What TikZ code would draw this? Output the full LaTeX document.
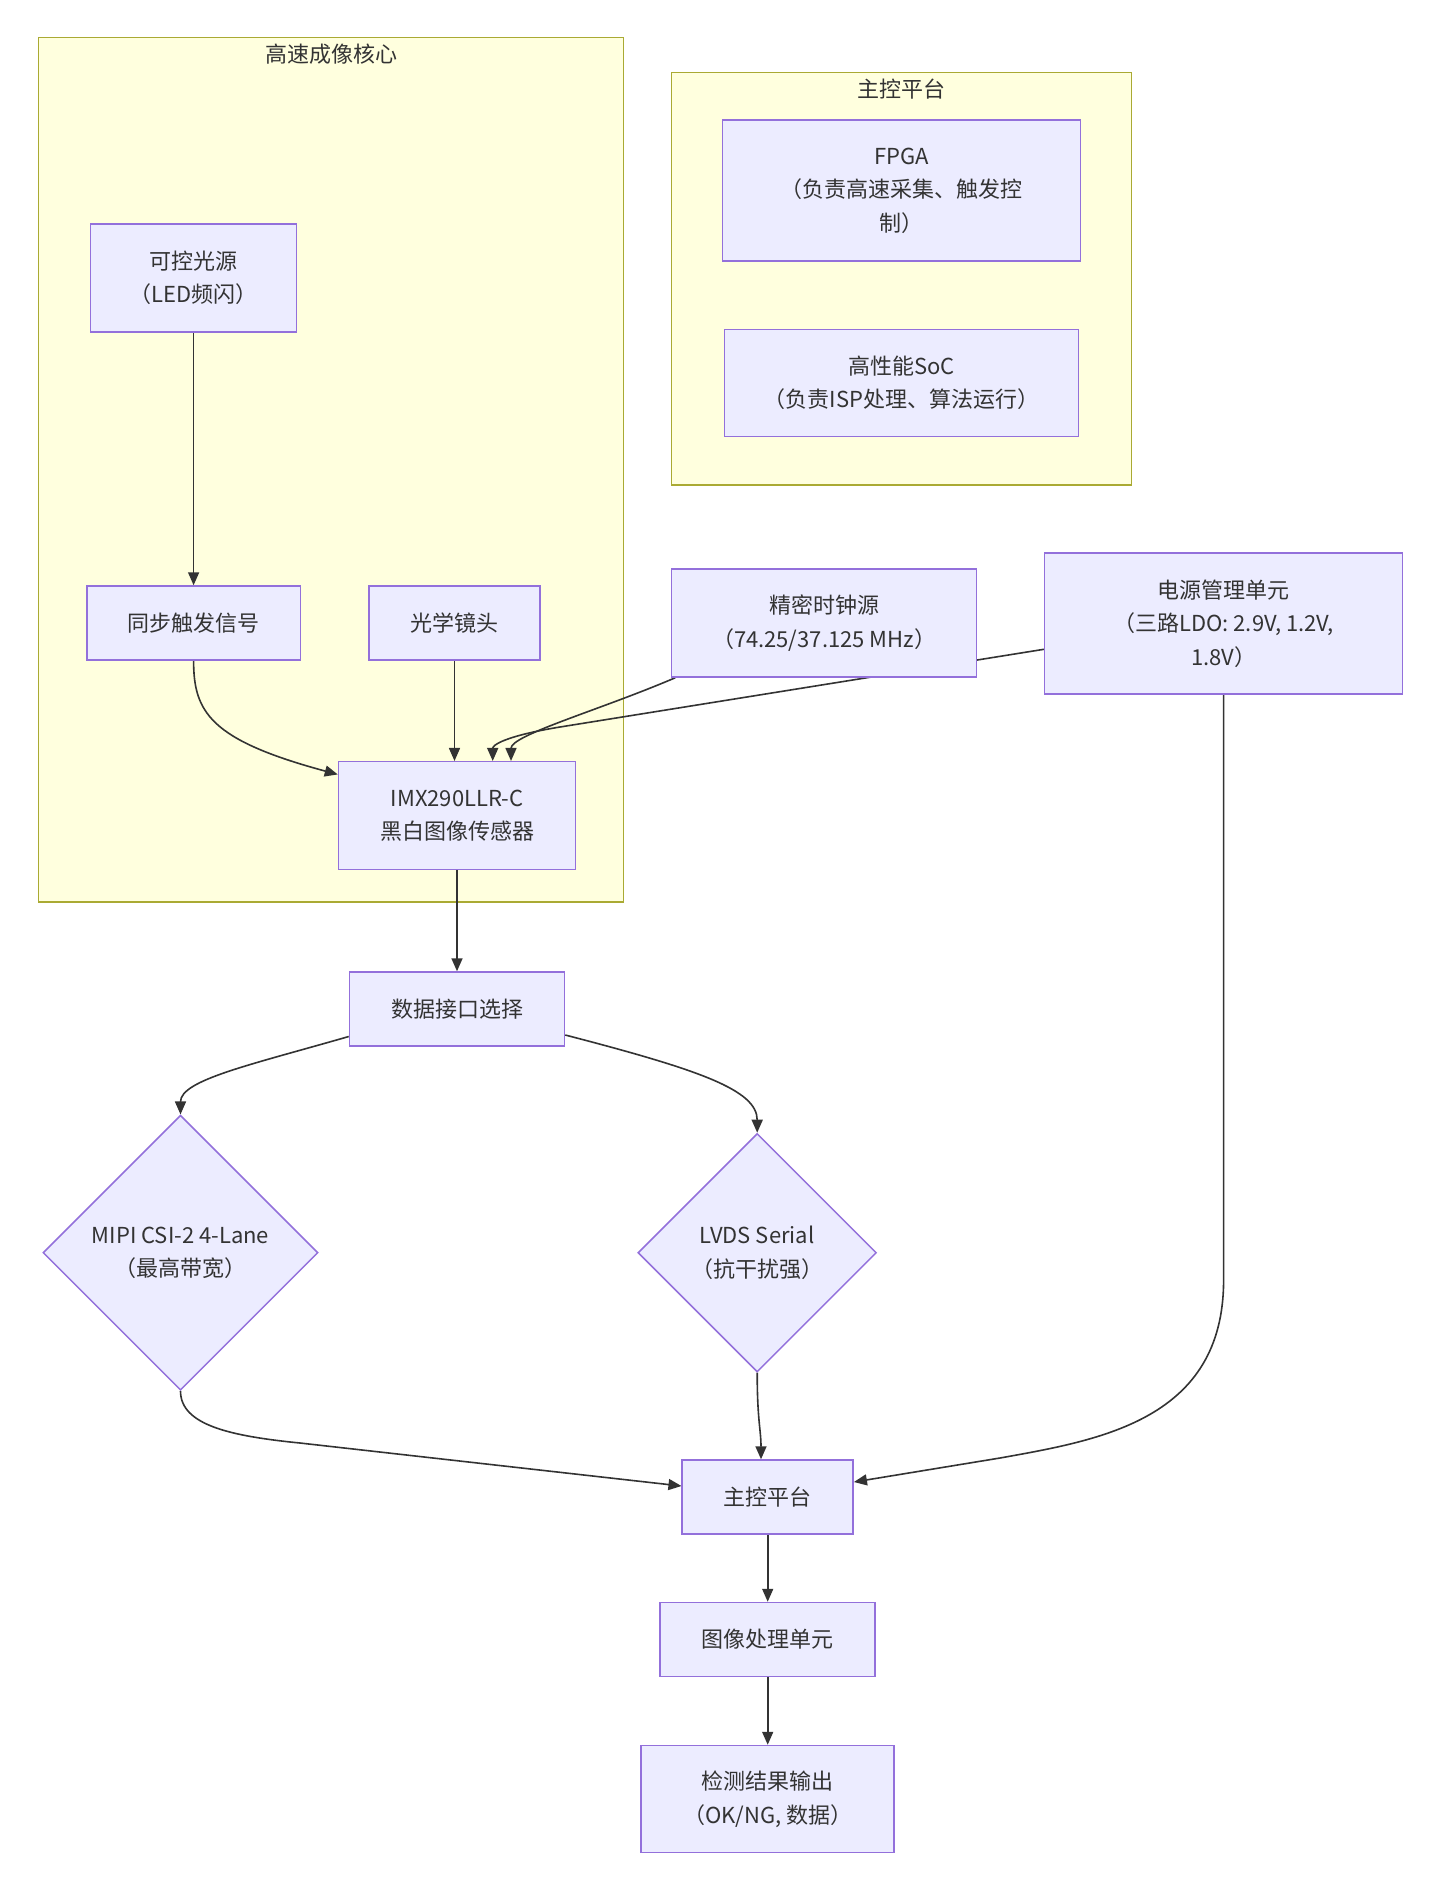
\documentclass[tikz,border=0pt]{standalone}
\usepackage{fontspec}
\setmainfont{Noto Sans CJK SC}
\usetikzlibrary{shapes.geometric,arrows.meta,calc}
\definecolor{nodefill}{HTML}{ECECFF}
\definecolor{nodeline}{HTML}{9370DB}
\definecolor{clfill}{HTML}{FFFFDE}
\definecolor{clline}{HTML}{AAAA33}
\definecolor{edgec}{HTML}{333333}
\definecolor{txt}{HTML}{333333}
\pgfdeclarelayer{clusters}
\pgfdeclarelayer{edges}
\pgfsetlayers{clusters,edges,main}
\begin{document}
\begin{tikzpicture}[x=1pt,y=-1pt,
  box/.style={draw=nodeline, fill=nodefill, line width=1.5pt, text=txt, align=center, inner sep=0pt, font=\fontsize{22}{33.5}\selectfont},
  dia/.style={box, diamond, aspect=1},
  edge/.style={draw=edgec, line width=1.6pt, -{Triangle[length=13pt,width=11pt]}},
  cluster/.style={draw=clline, fill=clfill, line width=1.5pt, inner sep=0pt},
  cltitle/.style={text=txt, font=\fontsize{22}{33.5}\selectfont, inner sep=0pt}]
\useasboundingbox (0,0) rectangle (1440,1891);

% clusters
\begin{pgfonlayer}{clusters}
\fill[white] (0,0) rectangle (1440,1891);
\node[cluster, minimum width=585pt, minimum height=864.6pt] (coreA) at (331,469.7) {};
\node[cluster, minimum width=460.4pt, minimum height=412.7pt] (coreB) at (901.5,278.7) {};
\end{pgfonlayer}
\node[cltitle] (titleA) at (331,54.5) {高速成像核心};
\node[cltitle] (titleB) at (901.5,89) {主控平台};

% nodes
\node[box, minimum width=358pt, minimum height=141pt] (fpga) at (901.7,190.7) {FPGA\\（负责高速采集、触发控\\制）};
\node[box, minimum width=353.6pt, minimum height=107.4pt] (soc) at (901.5,383) {高性能SoC\\（负责ISP处理、算法运行）};
\node[box, minimum width=206pt, minimum height=108pt] (light) at (193.6,278) {可控光源\\（LED频闪）};
\node[box, minimum width=213.5pt, minimum height=74pt] (sync) at (193.6,623) {同步触发信号};
\node[box, minimum width=171pt, minimum height=74pt] (lens) at (454.5,623) {光学镜头};
\node[box, minimum width=305pt, minimum height=108pt] (clock) at (824,623) {精密时钟源\\（74.25/37.125 MHz）};
\node[box, minimum width=358pt, minimum height=141pt] (power) at (1223.6,623.5) {电源管理单元\\（三路LDO: 2.9V, 1.2V,\\1.8V）};
\node[box, minimum width=237pt, minimum height=107.6pt] (imx) at (457,815.5) {IMX290LLR-C\\黑白图像传感器};
\node[box, minimum width=215pt, minimum height=74pt] (dsel) at (457,1009) {数据接口选择};
\node[dia, minimum width=275pt, minimum height=275pt] (mipi) at (180.5,1252.7) {MIPI CSI-2 4-Lane\\（最高带宽）};
\node[dia, minimum width=238.5pt, minimum height=238.5pt] (lvds) at (757.2,1252.7) {LVDS Serial\\（抗干扰强）};
\node[box, minimum width=171pt, minimum height=74pt] (host) at (767.7,1497) {主控平台};
\node[box, minimum width=215pt, minimum height=74pt] (isp) at (767.7,1639.5) {图像处理单元};
\node[box, minimum width=253pt, minimum height=107pt] (out) at (767.7,1799) {检测结果输出\\（OK/NG, 数据）};

% edges
\begin{pgfonlayer}{edges}
\draw[edge] (light.south) -- (sync.north);
\draw[edge] (sync.south) .. controls (193.6,712) and (210,740) .. ([yshift=-13.5pt]imx.north west);
\draw[edge] (lens.south) -- (lens.south |- imx.north);
\draw[edge] ([xshift=4.5pt]clock.south west) .. controls (600,710) and (511,735) .. ([xshift=54pt]imx.north);
\draw[edge] ([yshift=-25.8pt]power.west) -- (560,727) .. controls (505,736) and (492.7,745) .. ([xshift=35.7pt]imx.north);
\draw[edge] (imx.south) -- (dsel.north);
\draw[edge] ([yshift=-27.5pt]dsel.west) .. controls (250,1065) and (180.5,1080) .. (mipi.north);
\draw[edge] ([yshift=-26pt]dsel.east) .. controls (700,1070) and (757.2,1090) .. (lvds.north);
\draw[edge] (mipi.south) .. controls (180.5,1425) and (230,1436) .. (300,1443) -- ([yshift=11pt]host.west);
\draw[edge] (lvds.south) .. controls (757.2,1420) and (761,1430) .. ([xshift=-6.7pt]host.north);
\draw[edge] (power.south) -- (1223.6,1280) .. controls (1223.6,1420) and (1100,1440) .. (1000,1458) -- ([yshift=15pt]host.east);
\draw[edge] (host.south) -- (isp.north);
\draw[edge] (isp.south) -- (out.north);
\end{pgfonlayer}
\end{tikzpicture}
\end{document}
